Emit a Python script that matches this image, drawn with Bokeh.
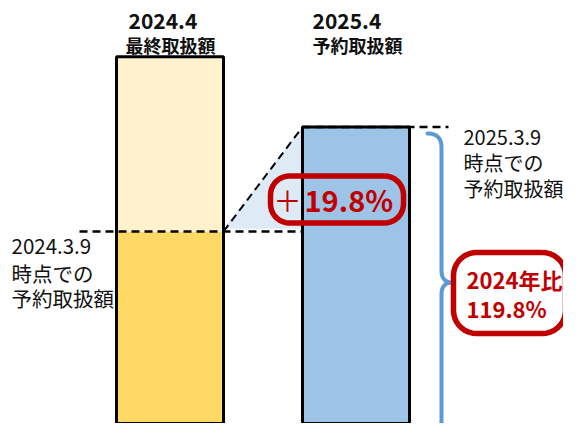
import numpy as np
from bokeh.plotting import figure
from bokeh.models import Range1d
from bokeh.core.properties import value
from bokeh.embed import file_html
from bokeh.resources import INLINE

# ---------------- data ----------------
categories = ["2024.4", "2025.4"]
subtitles = ["最終取扱額", "予約取扱額"]
reserved_2024 = 100.0      # 2024.3.9 時点での予約取扱額 (index)
final_2024 = 133.1         # 2024.4 最終取扱額 (index)
reserved_2025 = 119.8      # 2025.3.9 時点での予約取扱額 (index)
note_2024 = ["2024.3.9", "時点での", "予約取扱額"]
note_2025 = ["2025.3.9", "時点での", "予約取扱額"]
growth_label = "19.8%"
ratio_label = ["2024年比", "119.8%"]

# ---------------- layout helpers (screen px -> data) ----------------
PX_PER_X = 186.0
X0_PX = 169.5
PX_PER_Y = 5.278
BASE_PX = 758.8
FIG_W, FIG_H = 563, 423


def X(px):
    return (px - X0_PX) / PX_PER_X


def Y(py):
    return (BASE_PX - py) / PX_PER_Y


W = 107 / PX_PER_X
FONT = value("Noto Sans CJK JP")
RED = "#C00000"

p = figure(width=FIG_W, height=FIG_H, x_range=Range1d(X(0), X(FIG_W)),
           y_range=Range1d(Y(FIG_H), Y(0)), output_backend="svg",
           toolbar_location=None, min_border=0,
           x_axis_location=None, y_axis_location=None)
p.grid.visible = False
p.outline_line_color = None
p.background_fill_color = "white"

xl, xr = 0.0, 1.0

# triangle between bars
p.patch([xl + W / 2, xr - W / 2, xr - W / 2],
        [reserved_2024 + 0.5, reserved_2025, reserved_2024 + 0.5],
        fill_color="#DEEBF7", line_color=None)

# left bar (stacked)
p.vbar(x=[xl], bottom=[0], top=[reserved_2024], width=W,
       fill_color="#FFD966", line_color=None)
p.vbar(x=[xl], bottom=[reserved_2024], top=[final_2024], width=W,
       fill_color="#FFF2CC", line_color=None)
p.vbar(x=[xl], bottom=[0], top=[final_2024], width=W,
       fill_color=None, line_color="black", line_width=3)

# right bar
p.vbar(x=[xr], bottom=[0], top=[reserved_2025], width=W,
       fill_color="#9DC3E6", line_color="black", line_width=3)

# dashed guides
p.line([X(79), xr - W / 2], [reserved_2024, reserved_2024],
       line_color="black", line_width=2.5, line_dash="8 5")
p.line([xr - W / 2, X(448)], [reserved_2025, reserved_2025],
       line_color="black", line_width=2.5, line_dash="8 5")
p.line([xl + W / 2, xr - W / 2], [reserved_2024, reserved_2025],
       line_color="black", line_width=2, line_dash="8 5")


def qb(a, c, b, n=14):
    t = np.linspace(0, 1, n)
    xs = (1 - t) ** 2 * a[0] + 2 * (1 - t) * t * c[0] + t ** 2 * b[0]
    ys = (1 - t) ** 2 * a[1] + 2 * (1 - t) * t * c[1] + t ** 2 * b[1]
    return list(xs), list(ys)


# brace
bx, by = [], []
for seg in [((427, 133), (441, 133), (441, 147)),
            ((441, 147), (441, 208), (441, 270)),
            ((441, 270), (441, 282), (452, 282)),
            ((452, 282), (441, 282), (441, 294)),
            ((441, 294), (441, 357), (441, 420)),
            ((441, 420), (441, 434), (427, 434))]:
    sx, sy = qb(*seg)
    bx += sx
    by += sy
p.line([X(v) for v in bx], [Y(v) for v in by], line_color="#5B9BD5",
       line_width=4, line_cap="round", line_join="round")


def rrect(x0, y0, x1, y1, r, n=10):
    xs, ys = [], []
    corners = [(x1 - r, y0 + r, -90, 0), (x1 - r, y1 - r, 0, 90),
               (x0 + r, y1 - r, 90, 180), (x0 + r, y0 + r, 180, 270)]
    for cx, cy, a0, a1 in corners:
        a = np.radians(np.linspace(a0, a1, n))
        xs += list(cx + r * np.cos(a))
        ys += list(cy + r * np.sin(a))
    xs.append(xs[0])
    ys.append(ys[0])
    return [X(v) for v in xs], [Y(v) for v in ys]


bx1, by1 = rrect(270, 175.5, 403, 222.5, 19)
p.line(bx1, by1, line_color=RED, line_width=5.5, line_join="round")
bx2, by2 = rrect(453, 252, 565, 333, 23)
p.line(bx2, by2, line_color=RED, line_width=5.5, line_join="round")

# orange decorative arcs
for r in (351.0, 355.5):
    for a0, a1 in ((118, 135), (45, 62)):
        a = np.radians(np.linspace(a0, a1, 40))
        ax = 290 + r * np.cos(a)
        ay = 216 + r * np.sin(a)
        p.line([X(v) for v in ax], [Y(v) for v in ay],
               line_color="#FF7A1A", line_width=1.5)

# titles
p.text(x=[X(128), X(312)], y=[Y(20), Y(20)], text=categories,
       text_font=FONT, text_font_size="21px", text_font_style="bold",
       text_color="#111111", text_align="left", text_baseline="middle")
p.text(x=[X(125), X(312)], y=[Y(44), Y(44)], text=subtitles,
       text_font=FONT, text_font_size="18px", text_font_style="bold",
       text_color="#111111", text_align="left", text_baseline="middle")

# notes
p.text(x=[X(463)] * 3, y=[Y(137), Y(162), Y(188)], text=note_2025,
       text_font=FONT, text_font_size="20px", text_color="#111111",
       text_align="left", text_baseline="middle")
p.text(x=[X(11)] * 3, y=[Y(246), Y(272), Y(297)], text=note_2024,
       text_font=FONT, text_font_size="20.5px", text_color="#111111",
       text_align="left", text_baseline="middle")

# growth label
p.text(x=[X(287)], y=[Y(199)], text=["＋"], text_font=FONT,
       text_font_size="28px", text_color=RED, text_align="center",
       text_baseline="middle")
p.text(x=[X(304)], y=[Y(198)], text=[growth_label], text_font=FONT,
       text_font_size="29px", text_font_style="bold", text_color=RED,
       text_align="left", text_baseline="middle")

# ratio label
p.text(x=[X(466)] * 2, y=[Y(278), Y(307)], text=ratio_label, text_font=FONT,
       text_font_size="22px", text_font_style="bold", text_color=RED,
       text_align="left", text_baseline="middle")

open("out.html", "w").write(file_html(p, INLINE))
